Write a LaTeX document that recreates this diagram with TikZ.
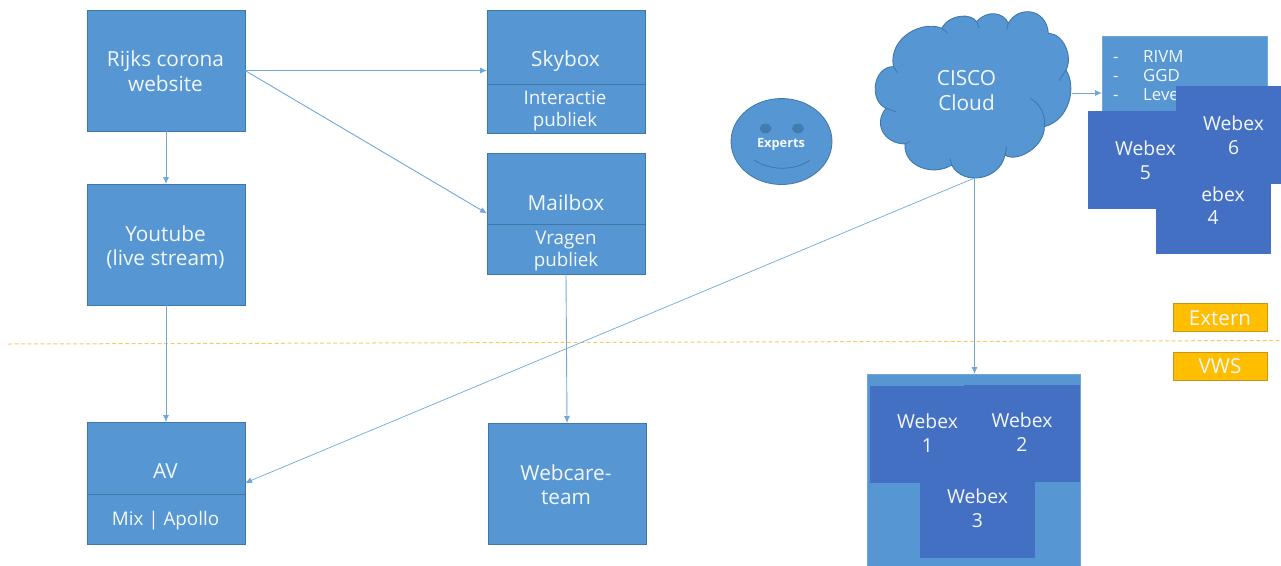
\documentclass[tikz,border=0pt]{standalone}
\usepackage{fontspec}
\setmainfont{Open Sans}
\usetikzlibrary{arrows.meta,calc,shapes.geometric}
\definecolor{bl}{HTML}{5596D3}
\definecolor{dk}{HTML}{4470C3}
\definecolor{edgec}{HTML}{3F78A8}
\definecolor{ln}{HTML}{6FA8D8}
\definecolor{og}{HTML}{FFBE00}
\definecolor{ogd}{HTML}{C4961A}
\definecolor{dashc}{HTML}{F2CE62}
\definecolor{tx}{HTML}{F4F8FC}
\tikzset{
  box/.style={draw=edgec,line width=.9pt,fill=bl,inner sep=0pt,outer sep=0pt,rectangle},
  plainbox/.style={fill=bl,draw=ln,line width=.6pt,inner sep=0pt,outer sep=0pt,rectangle},
  darkbox/.style={fill=dk,draw=none,inner sep=0pt,outer sep=0pt,rectangle},
  tagbox/.style={fill=og,draw=ogd,line width=.8pt,inner sep=0pt,outer sep=0pt,rectangle},
  lab/.style={text=tx,align=center,inner sep=0pt,font=\fontsize{20.8}{24.5}\selectfont},
  sublab/.style={text=tx,align=center,inner sep=0pt,font=\fontsize{18.8}{22}\selectfont},
  wlab/.style={text=tx,align=center,inner sep=0pt,font=\fontsize{19.3}{24}\selectfont},
  listlab/.style={text=tx,inner sep=0pt,anchor=base west,font=\fontsize{16.8}{17}\selectfont},
  taglab/.style={text=tx,inner sep=0pt,font=\fontsize{20.6}{21}\selectfont},
  conn/.style={draw=ln,line width=.9pt,-{Latex[length=7pt,width=6pt]}},
  divider/.style={draw=edgec,line width=.8pt}
}
\newcommand{\rectnode}[6]{%
  \pgfmathsetmacro{\rw}{#5-#3}\pgfmathsetmacro{\rh}{#6-#4}%
  \node[#1,minimum width=\rw pt,minimum height=\rh pt] (#2) at ({(#3+#5)/2},{(#4+#6)/2}) {};}
\begin{document}
\begin{tikzpicture}[x=1pt,y=-1pt]
\useasboundingbox (0,0) rectangle (1281,565);
% divider line
\coordinate (dl) at (8,344);
\coordinate (dr) at (1281,340.5);
\draw[dashc,line width=1pt,dash pattern=on 4pt off 2.5pt] (dl) -- (dr);

% left boxes
\rectnode{box}{rijks}{87}{10}{245}{131}
\node[lab] (rijkst) at (165.5,71) {Rijks corona\\website};
\rectnode{box}{yt}{87}{184}{245}{305}
\node[lab] (ytl) at (165.5,247) {Youtube\\(live stream)};
\rectnode{box}{av}{87}{422}{245}{544}
\draw[divider] (87,494) -- (245,494);
\node[lab] (avt) at (165.5,471) {AV};
\node[sublab] (avs) at (165.5,520.5) {Mix | Apollo};

% middle boxes
\rectnode{box}{sky}{487}{10}{645}{133}
\draw[divider] (487,84) -- (645,84);
\node[lab] (skyt) at (565.5,61) {Skybox};
\node[sublab] (skys) at (565,111) {Interactie\\publiek};
\rectnode{box}{mail}{487}{153}{645}{274}
\draw[divider] (487,224.5) -- (645,224.5);
\node[lab] (mailt) at (566,203) {Mailbox};
\node[sublab] (mails) at (566,251.5) {Vragen\\publiek};
\rectnode{box}{care}{488}{423}{646}{544}
\node[lab] (caret) at (566,484.5) {Webcare-\\team};

% smiley
\node[ellipse,draw=edgec,line width=.8pt,fill=bl,minimum width=101pt,minimum height=86pt,inner sep=0pt] (face) at (781.5,141.5) {};
\fill[fill=edgec!85!bl] (765.5,128.5) ellipse (6pt and 4.8pt);
\fill[fill=edgec!85!bl] (798,128.5) ellipse (6pt and 4.8pt);
\draw[edgec,line width=.8pt] (754,160) .. controls (770,171) and (795,171) .. (810,160);
\node[text=tx,inner sep=0pt,font=\fontsize{12.8}{15}\selectfont\bfseries] (expt) at (781,144) {Experts};

% list box and webex stack
\rectnode{plainbox}{list}{1102}{36}{1267}{115}
\node[listlab] (l1) at (1143,62) {RIVM};
\node[listlab] (l2) at (1143,81) {GGD};
\node[listlab] (l3) at (1143,100) {Leve};
\node[listlab] (d1) at (1113,62) {-};
\node[listlab] (d2) at (1113,81) {-};
\node[listlab] (d3) at (1113,100) {-};
\rectnode{darkbox}{w4}{1156}{155}{1271}{254}
\rectnode{darkbox}{w5}{1088}{110.5}{1202}{209}
\rectnode{darkbox}{w6}{1176}{86}{1281}{184}
\node[wlab] (w6t) at (1233.5,135) {Webex\\6};
\node[wlab] (w5t) at (1145.5,160.5) {Webex\\5};
\node[wlab] (w4a) at (1223,194) {ebex};
\node[wlab] (w4b) at (1213,218) {4};

% cloud
\begin{scope}[shift={(860,0)},x=.3333pt,y=-.3333pt]
\path[draw=edgec,line width=.9pt,fill=bl]
 (100,200) .. controls (85,110) and (190,60) .. (245,85)
 .. controls (270,40) and (335,40) .. (350,65)
 .. controls (380,30) and (430,35) .. (445,70)
 .. controls (475,15) and (560,25) .. (565,100)
 .. controls (610,100) and (640,170) .. (618,210)
 .. controls (650,260) and (630,360) .. (553,380)
 .. controls (555,440) and (470,490) .. (435,465)
 .. controls (420,540) and (310,560) .. (275,495)
 .. controls (220,530) and (130,500) .. (135,432)
 .. controls (70,430) and (40,370) .. (78,325)
 .. controls (25,300) and (40,200) .. (100,200) -- cycle;
\draw[edgec,line width=.8pt]
 (510,295) .. controls (540,310) and (558,345) .. (553,380)
 (618,210) -- (597,242)
 (445,70) -- (440,88)
 (350,65) -- (358,85)
 (245,85) -- (262,98)
 (100,200) -- (112,218)
 (78,325) -- (108,335)
 (135,432) -- (150,425)
 (275,495) -- (270,475)
 (435,465) -- (440,440);
\end{scope}
\coordinate (cb) at (974.5,178);
\coordinate (cr) at (1072,93);
\node[lab] (cloudt) at (966.5,90.5) {CISCO\\Cloud};

% outer Webex group
\rectnode{plainbox}{outer}{867}{374}{1080}{566}
\rectnode{darkbox}{w1}{870}{386}{1000}{483}
\rectnode{darkbox}{w2}{964}{385}{1080}{482}
\rectnode{darkbox}{w3}{920}{482}{1035}{558}
\node[wlab] (w1t) at (927.5,433.5) {Webex\\1};
\node[wlab] (w2t) at (1022,432) {Webex\\2};
\node[wlab] (w3t) at (977.5,508.5) {Webex\\3};

% tags
\rectnode{tagbox}{ext}{1173}{303}{1267}{331}
\node[taglab] (extt) at (1220,318) {Extern};
\rectnode{tagbox}{vws}{1173}{352}{1267}{380}
\node[taglab] (vwst) at (1220,366) {VWS};

% connectors
\draw[conn] (rijks.east) -- (rijks.east -| sky.west);
\draw[conn] (rijks.east) -- (mail.west);
\draw[conn] (rijks.south) -- (yt.north);
\draw[conn] (yt.south) -- (av.north);
\draw[conn] (mail.south) -- (care.north);
\draw[conn,line width=.7pt] (cb) -- (av.east);
\draw[conn] (cb) -- (cb |- outer.north);
\draw[conn] (cr) -- (cr -| list.west);
\end{tikzpicture}
\end{document}
